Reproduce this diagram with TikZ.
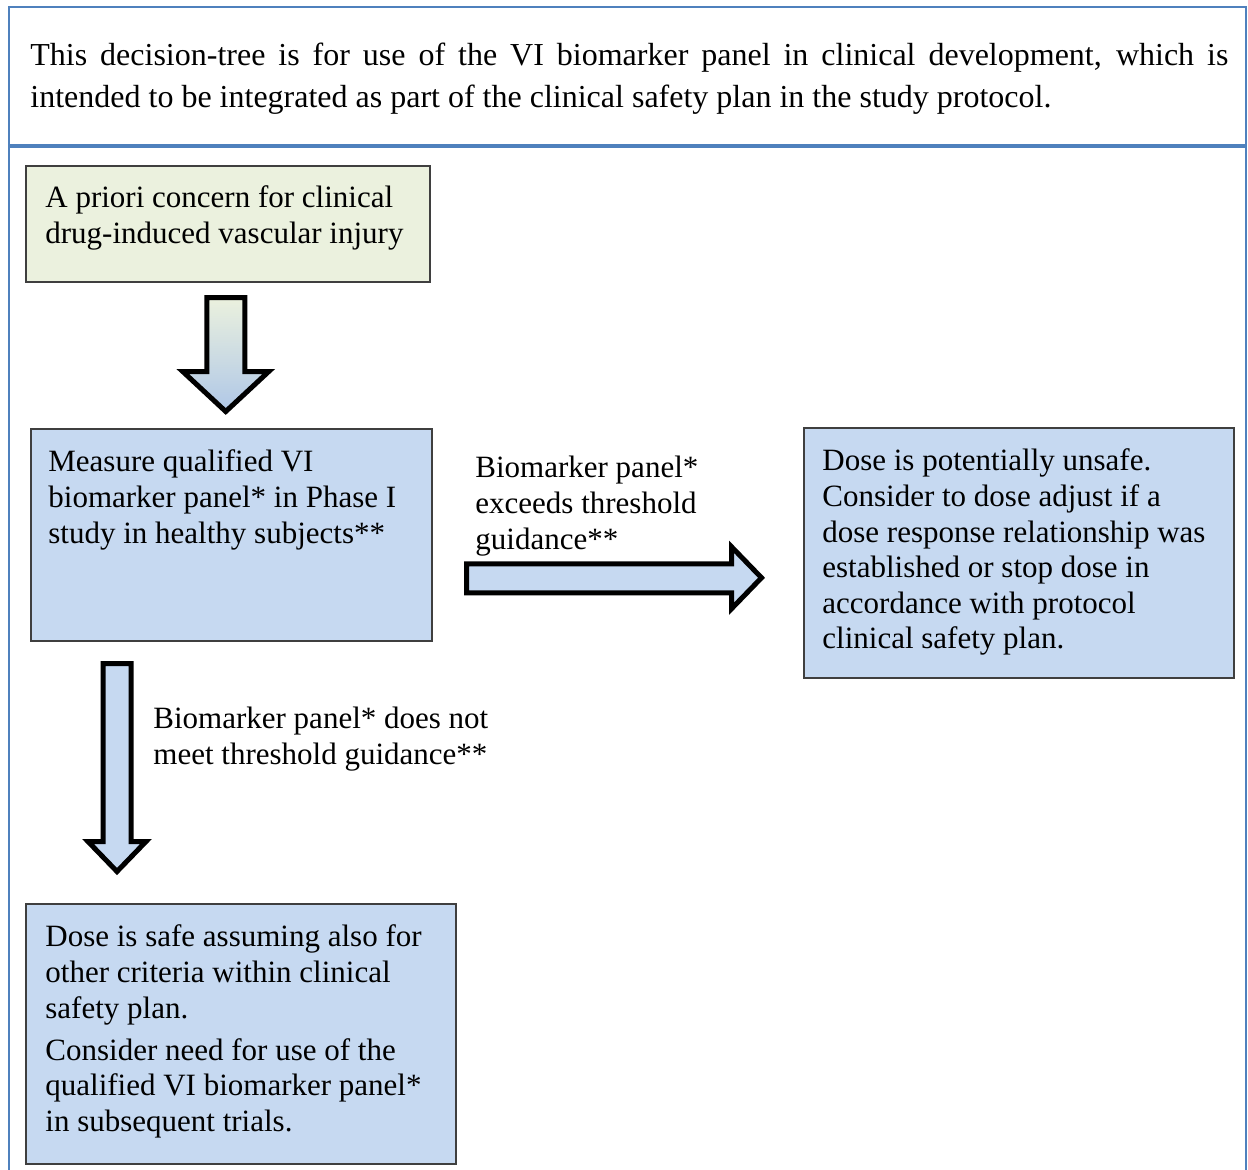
\documentclass[tikz,border=0pt]{standalone}
\usepackage{fontspec}
\setmainfont{Liberation Serif}
\usetikzlibrary{positioning,calc}
\definecolor{frameblue}{HTML}{4F81BD}
\definecolor{boxgreen}{HTML}{EBF1DE}
\definecolor{boxblue}{HTML}{C6D9F1}
\definecolor{arrowblue}{HTML}{AFC7E7}
\definecolor{boxline}{HTML}{3F3F3F}
\newcommand{\treefont}{\fontsize{15.5}{17.8}\selectfont}
\tikzset{
    frame/.style = {
        draw = frameblue,
        line width = 1pt,
        },
    step box/.style = {
        draw = boxline,
        line width = 0.75pt,
        fill = boxblue,
        anchor = north west,
        inner sep = 0pt,
        },
    start box/.style = {
        step box,
        fill = boxgreen,
        },
    box text/.style = {
        font = \treefont,
        align = left,
        anchor = north west,
        inner sep = 0pt,
        },
    block arrow/.style = {
        draw = black,
        line width = 2.5pt,
        line join = miter,
        fill = boxblue,
        },
}
\begin{document}
\begin{tikzpicture}[x=0.5pt, y=-0.5pt]
    \useasboundingbox (0,0) rectangle (1248,1169);

    % outer frame
    \draw[frame] (9,1170) -- (9,7) -- (1246,7) -- (1246,1170);
    \draw[frame, line width=1.6pt] (9,146) -- (1246,146);

    \node[box text, font=\fontsize{16}{21}\selectfont] (intro) at (30,43)
        {\makebox[599pt][s]{This decision-tree is for use of the VI biomarker panel in clinical development, which is}\\
         intended to be integrated as part of the clinical safety plan in the study protocol.};

    % boxes
    \node[start box, minimum width=202pt, minimum height=58pt] (prior) at (25,165) {};
    \node[step box, minimum width=200.5pt, minimum height=106pt] (measure) at (30,428) {};
    \node[step box, minimum width=215pt, minimum height=125pt] (unsafe) at (803,427) {};
    \node[step box, minimum width=215pt, minimum height=130pt] (safe) at (25,903) {};

    \node[box text] (prior text) at ([xshift=10pt, yshift=-10.3pt] prior.north west)
        {A priori concern for clinical\\drug-induced vascular injury};
    \node[box text] (measure text) at ([xshift=9pt, yshift=-10.8pt] measure.north west)
        {Measure qualified VI\\biomarker panel* in Phase I\\study in healthy subjects**};
    \node[box text] (unsafe text) at ([xshift=9.5pt, yshift=-10.8pt] unsafe.north west)
        {Dose is potentially unsafe.\\Consider to dose adjust if a\\dose response relationship was\\established or stop dose in\\accordance with protocol\\clinical safety plan.};
    \node[box text] (safe text) at ([xshift=10pt, yshift=-10.8pt] safe.north west)
        {Dose is safe assuming also for\\other criteria within clinical\\safety plan.\\[3.2pt]Consider need for use of the\\qualified VI biomarker panel*\\in subsequent trials.};

    % arrows
    \draw[block arrow, top color=boxgreen, bottom color=arrowblue]
        ([xshift=-10.5pt, yshift=-7.5pt] prior.south) -- ++(0,74) -- ++(-24,0) -- ++(43,40)
        -- ++(43,-40) -- ++(-24,0) -- ++(0,-74) -- cycle;
    \draw[block arrow]
        ([xshift=17pt, yshift=-14.5pt] measure.east) -- ++(265,0) -- ++(0,-17) -- ++(30,31)
        -- ++(-30,31) -- ++(0,-16) -- ++(-265,0) -- cycle;
    \draw[block arrow]
        ([xshift=36.5pt, yshift=-11pt] measure.south west) -- ++(0,178) -- ++(-15,0) -- ++(29,30)
        -- ++(29,-30) -- ++(-15,0) -- ++(0,-178) -- cycle;

    \node[box text] (exceeds) at (475,456)
        {Biomarker panel*\\exceeds threshold\\guidance**};
    \node[box text] (below) at (153,707)
        {Biomarker panel* does not\\meet threshold guidance**};
\end{tikzpicture}
\end{document}
